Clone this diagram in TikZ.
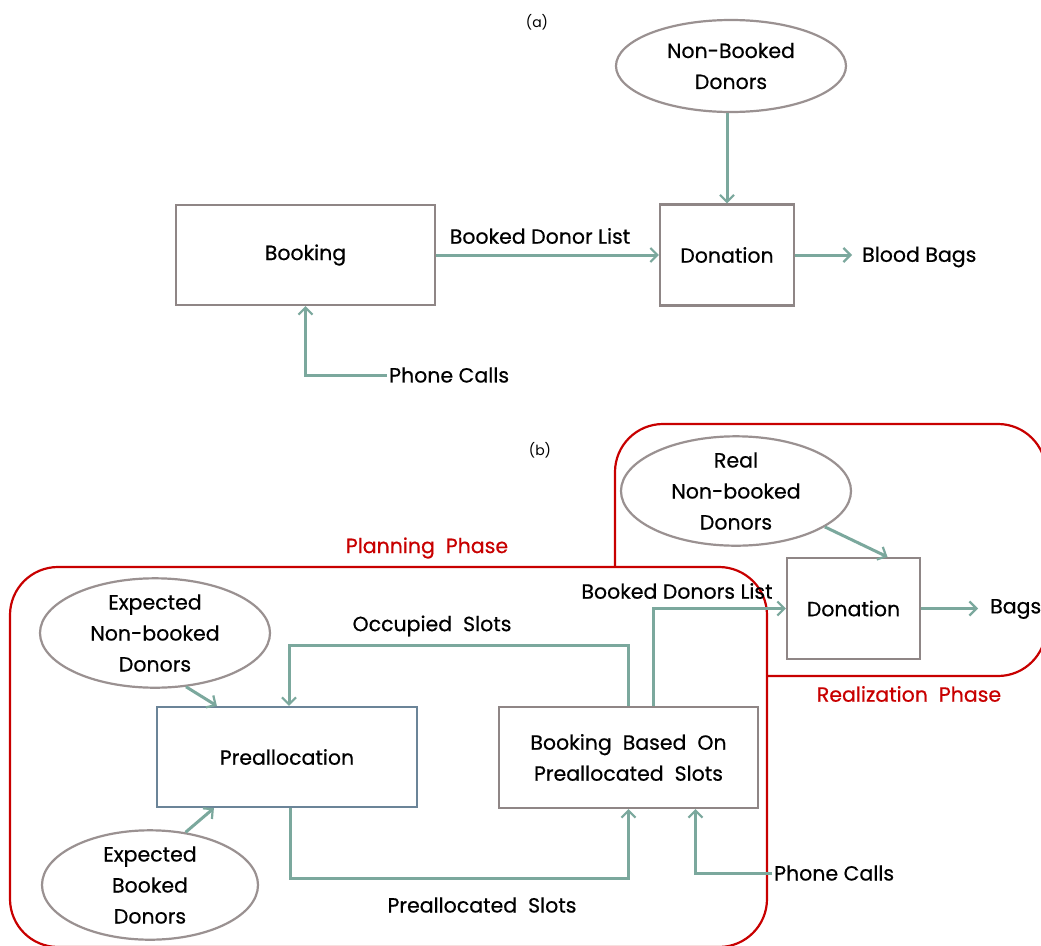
\documentclass[tikz,border=0pt]{standalone}
\usepackage{fontspec}
\setmainfont{Poppins}
\newfontfamily\diagfont{Poppins}[FakeBold=0.5]
\usetikzlibrary{arrows.meta,shapes.geometric}
\definecolor{arrc}{HTML}{7BA89D}
\definecolor{boxc}{HTML}{8F8686}
\definecolor{prec}{HTML}{6B8498}
\definecolor{ellc}{HTML}{9A9191}
\definecolor{redc}{HTML}{C80000}
\tikzset{
  txt/.style={font=\diagfont\fontsize{20.5}{31}\selectfont, align=center, inner sep=2pt},
  boxn/.style={txt, draw=boxc, line width=2.2pt, fill=white},
  elln/.style={txt, ellipse, draw=ellc, line width=2.2pt, fill=white, minimum width=230pt, minimum height=92pt, inner sep=0pt},
  arr/.style={draw=arrc, line width=3pt, -{Straight Barb[length=7pt,width=14pt,line width=2.2pt]}},
  redn/.style={txt, text=redc},
  region/.style={draw=redc, line width=2.2pt, rounded corners=48pt},
  small/.style={font=\fontsize{14}{16}\selectfont}
}
\begin{document}
\begin{tikzpicture}[x=1pt,y=-1pt]
\useasboundingbox (0,0) rectangle (1041,945);
\fill[white] (0,0) rectangle (1041,945);
% ---------- (a)
\node[small] (la) at (537,22) {(a)};
\node[elln] (nbd) at (731,66) {Non-Booked\\Donors};
\node[boxn, minimum width=134pt, minimum height=101pt] (don) at (727,255) {Donation};
\node[boxn, minimum width=259pt, minimum height=100pt] (book) at (305.5,255) {Booking};
\node[txt] (bdl) at (540,236) {Booked Donor List};
\node[txt, anchor=west] (bb) at (860,257) {Blood Bags};
\node[txt, anchor=west] (pc) at (387,375) {Phone Calls};
\draw[arr] (book.east) -- (don.west);
\draw[arr] (don.east) -- ([xshift=-8pt]don.east -| bb.west);
\draw[arr] (nbd.south -| don.north) -- (don.north);
\draw[arr] (pc.west) -| (book.south);
% ---------- (b)
\node[small] (lb) at (540,450) {(b)};
\draw[region] (615,600) -- (615,424) -- (1046,424) -- (1046,676) -- (700,676);
\draw[region, fill=white] (10,567) rectangle (767,947);
\node[redn] (plan) at (427,548) {Planning\ \ Phase};
\node[redn] (real) at (909,694) {Realization\ \ Phase};
\node[elln] (rnd) at (736,491) {Real\\Non-booked\\Donors};
\node[boxn, minimum width=133pt, minimum height=101pt] (don2) at (853.5,608.5) {Donation};
\node[txt, anchor=west] (bags) at (988,609) {Bags};
\node[boxn, minimum width=259pt, minimum height=101pt] (bbps) at (628.5,757.5) {Booking\ \ Based\ \ On\\Preallocated\ \ Slots};
\node[boxn, draw=prec, minimum width=260pt, minimum height=100pt] (pre) at (287,757) {Preallocation};
\node[elln] (enb) at (155,633) {Expected\\Non-booked\\Donors};
\node[elln, minimum width=216pt, minimum height=94pt] (eb) at (150,885) {Expected\\Booked\\Donors};
\node[txt] (bdl2) at (677,591) {Booked Donors List};
\node[txt] (occ) at (432,626) {Occupied\ \ Slots};
\node[txt] (pas) at (482,905) {Preallocated\ \ Slots};
\node[txt, anchor=west] (pc2) at (772,873) {Phone Calls};
\draw[arr] (rnd.-22) -- ([xshift=34pt]don2.north);
\draw[arr] (don2.east) -- ([xshift=-10pt]don2.east -| bags.west);
\draw[arr] ([xshift=25pt]bbps.north) |- (don2.west);
\draw[arr] (bbps.north) -- ++(0,-60) -| ([xshift=2pt]pre.north);
\draw[arr] ([xshift=3pt]pre.south) -- ++(0,70) -| (bbps.south);
\draw[arr] (pc2.west) -| ([xshift=67pt]bbps.south);
\draw[arr] (enb.-60) -- ([xshift=61pt]pre.north west);
\draw[arr] (eb.56) -- ([xshift=58pt]pre.south west);
\end{tikzpicture}
\end{document}
